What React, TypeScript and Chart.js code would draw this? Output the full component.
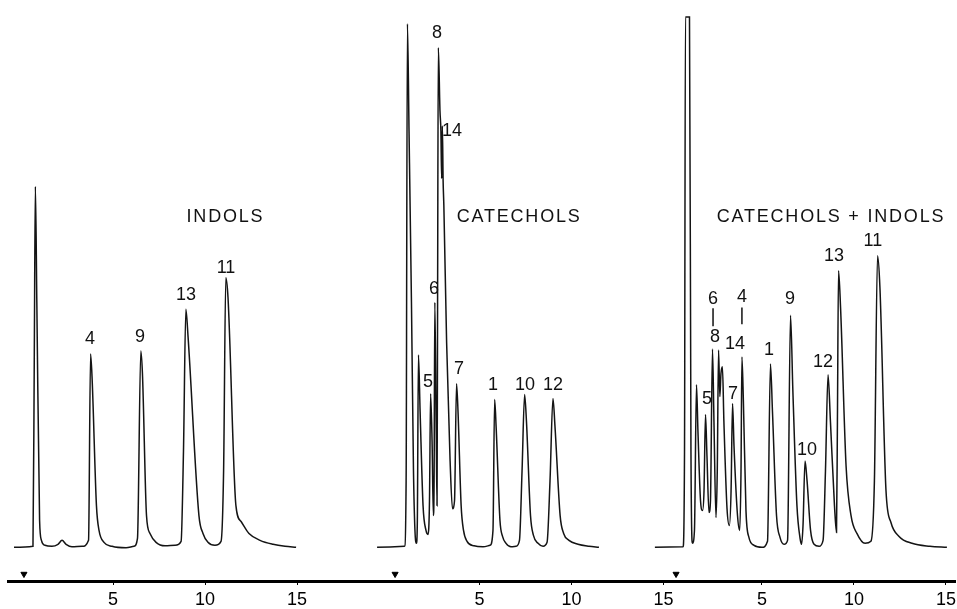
import React, { useEffect, useRef } from "react";
import { Chart, registerables } from "chart.js";

Chart.register(...registerables);

// Shared time axis: three chromatograms on one strip, minutes since each injection
const panelOffsets = [0, 19.92, 35.27];
const tickMinutes = [5, 10, 15];
const injectionTimes = [0.16, 0.41, 0.33];
const injectionLevel = -27;

// Panel 1: INDOLS  (time in min, detector signal in arbitrary units)
const indolsTime = [
  -0.38, 0.65, 0.72, 0.78, 0.86, 1.01, 1.11, 1.3, 1.68, 2.01, 2.23, 2.45, 2.77, 3.32, 3.67, 3.78, 3.86, 4.1,
  4.24, 4.51, 4.95, 5.71, 6.14, 6.33, 6.51, 6.6, 6.82, 7.01, 7.34, 7.83, 8.37, 8.7, 8.83, 8.96, 9.08, 9.67,
  9.89, 10.16, 10.54, 10.87, 11.01, 11.13, 11.25, 11.68, 11.96, 12.39, 12.99, 13.7, 14.35, 14.95,
];
const indolsSignal = [
  0, 1, 187, 364, 247, 27, 7, 2, 1, 3, 7, 3, 0.5, 1, 7, 195, 172, 42,
  17, 5, 1, -0.5, 1, 9, 198, 175, 32, 14, 5, 1.5, 2, 6, 97, 240, 212, 32,
  14, 5, 2, 6, 77, 272, 252, 42, 26, 14, 7, 3, 1, 0,
];

// Panel 2: CATECHOLS
const catecholsTime = [
  -0.57, 0.92, 1.01, 1.08, 1.17, 1.3, 1.41, 1.49, 1.57, 1.62, 1.68, 1.77, 1.93, 2.09, 2.2, 2.28, 2.34, 2.42,
  2.49, 2.53, 2.57, 2.64, 2.69, 2.72, 2.76, 2.85, 2.9, 2.94, 2.98, 3.02, 3.06, 3.21, 3.4, 3.53, 3.64, 3.75, 3.83, 4.0,
  4.13, 4.32, 4.7, 5.19, 5.57, 5.73, 5.82, 5.9, 6.11, 6.25, 6.44, 6.71, 6.98, 7.17, 7.31, 7.45, 7.55, 7.77,
  7.93, 8.18, 8.45, 8.67, 8.83, 8.99, 9.1, 9.38, 9.57, 9.86, 10.35, 10.95, 11.49,
];
const catecholsSignal = [
  0, 1, 67, 528, 417, 247, 77, 17, 4, 27, 194, 137, 42, 17, 13, 47, 155, 107,
  32, 67, 247, 127, 42, 247, 504, 440, 420, 372, 425, 370, 345, 207, 87, 39, 47, 165, 137, 42,
  17, 6, 1.5, 0.5, 2, 17, 149, 122, 27, 11, 4, 0.5, 1, 7, 77, 154, 127, 32,
  12, 4, 1, 5, 67, 150, 122, 32, 14, 7, 3, 1, 0,
];

// Panel 3: CATECHOLS + INDOLS
const mixTime = [
  -0.82, 0.71, 0.79, 0.84, 1.06, 1.14, 1.22, 1.33, 1.44, 1.52, 1.66, 1.77, 1.85, 1.93, 2.01, 2.12, 2.2, 2.31,
  2.39, 2.5, 2.57, 2.64, 2.71, 2.77, 2.85, 2.93, 3.1, 3.23, 3.32, 3.4, 3.48, 3.67, 3.79, 3.86, 3.91, 3.99,
  4.13, 4.29, 4.57, 5.0, 5.3, 5.46, 5.57, 5.79, 5.98, 6.2, 6.39, 6.55, 6.68, 6.9, 7.07, 7.15, 7.23, 7.34,
  7.45, 7.64, 7.83, 8.1, 8.32, 8.45, 8.59, 8.72, 8.94, 9.05, 9.1, 9.16, 9.27, 9.57, 9.84, 10.16, 10.6, 10.92,
  11.11, 11.28, 11.41, 11.74, 12.01, 12.45, 13.15, 14.13, 15.05,
];
const mixSignal = [
  0, 0.5, 97, 535, 535, 97, 4, 17, 164, 117, 47, 37, 57, 134, 92, 35, 47, 200,
  127, 30, 77, 199, 152, 175, 182, 127, 39, 22, 57, 145, 102, 32, 17, 77, 192, 147,
  37, 10, 2, 0, 6, 185, 137, 32, 10, 3, 7, 234, 157, 42, 9, 3, 22, 87,
  67, 17, 3, 1, 7, 77, 174, 127, 42, 15, 127, 279, 242, 82, 32, 14, 4, 6,
  67, 294, 262, 57, 25, 11, 4, 1, 0,
];

// Peak numbers: [text, time, height]
const indolsLabels: [string, number, number][] = [
  ["4", 3.75, 210], ["9", 6.47, 212], ["13", 8.97, 254], ["11", 11.14, 282],
];
const catecholsLabels: [string, number, number][] = [
  ["8", 2.69, 519], ["14", 3.51, 420], ["6", 2.53, 261], ["5", 2.2, 167], ["7", 3.89, 180],
  ["1", 5.73, 164], ["10", 7.47, 164], ["12", 8.99, 164],
];
const mixLabels: [string, number, number][] = [
  ["6", 2.34, 250], ["8", 2.45, 212], ["5", 2.01, 150], ["14", 3.53, 205], ["4", 3.91, 252],
  ["7", 3.42, 155], ["1", 5.38, 199], ["9", 6.52, 250], ["10", 7.45, 98], ["12", 8.32, 187],
  ["13", 8.91, 294], ["11", 11.03, 309],
];
const panelTitles = ["INDOLS", "CATECHOLS", "CATECHOLS + INDOLS"];
const titleTimes = [11.11, 7.15, 8.75];
const titleHeight = 333;

// little leader strokes in panel 3 (6 -> 8, 4 -> peak)
const leaderTimes = [2.34, 3.91];
const leaderTop = [241, 242];
const leaderBottom = [223, 225];

const FONT = "'Liberation Sans', Arial, Helvetica, sans-serif";

function toXY(offset: number, ts: number[], hs: number[]) {
  return ts.map((t, i) => ({ x: offset + t, y: hs[i] }));
}

export default function App() {
  const ref = useRef<HTMLCanvasElement | null>(null);

  useEffect(() => {
    if (!ref.current) return;

    const traceStyle = {
      type: "line" as const,
      borderColor: "#141414",
      borderWidth: 1.5,
      pointRadius: 0,
      fill: false,
      cubicInterpolationMode: "monotone" as const,
    };

    const labelSets = [indolsLabels, catecholsLabels, mixLabels];

    const textPlugin = {
      id: "peakText",
      afterDatasetsDraw(chart: any) {
        const { ctx, scales } = chart;
        const xs = scales.x;
        const ys = scales.y;
        ctx.save();
        ctx.fillStyle = "#111";
        ctx.textAlign = "center";
        ctx.textBaseline = "middle";
        labelSets.forEach((set, p) => {
          ctx.font = `18px ${FONT}`;
          (ctx as any).letterSpacing = "0px";
          set.forEach(([txt, t, h]) => {
            ctx.fillText(txt, xs.getPixelForValue(panelOffsets[p] + t), ys.getPixelForValue(h));
          });
          ctx.font = `18px ${FONT}`;
          (ctx as any).letterSpacing = "1.8px";
          ctx.fillText(
            panelTitles[p],
            xs.getPixelForValue(panelOffsets[p] + titleTimes[p]),
            ys.getPixelForValue(titleHeight)
          );
        });
        ctx.restore();
      },
    };

    const datasets: any[] = [
      { ...traceStyle, label: "INDOLS", data: toXY(panelOffsets[0], indolsTime, indolsSignal) },
      { ...traceStyle, label: "CATECHOLS", data: toXY(panelOffsets[1], catecholsTime, catecholsSignal) },
      { ...traceStyle, label: "CATECHOLS + INDOLS", data: toXY(panelOffsets[2], mixTime, mixSignal) },
      {
        type: "line",
        label: "injection",
        showLine: false,
        data: injectionTimes.map((t, i) => ({ x: panelOffsets[i] + t, y: injectionLevel })),
        pointStyle: "triangle",
        rotation: 180,
        pointRadius: 3.5,
        pointBackgroundColor: "#000",
        pointBorderColor: "#000",
        pointBorderWidth: 1,
      },
      ...leaderTimes.map((t, i) => ({
        type: "line",
        label: "leader" + i,
        data: [
          { x: panelOffsets[2] + t, y: leaderTop[i] },
          { x: panelOffsets[2] + t, y: leaderBottom[i] },
        ],
        borderColor: "#111",
        borderWidth: 1.5,
        pointRadius: 0,
      })),
    ];

    const chart = new Chart(ref.current, {
      type: "line",
      data: { datasets },
      plugins: [textPlugin],
      options: {
        animation: false,
        responsive: false,
        devicePixelRatio: 1,
        events: [],
        layout: { padding: { left: 8, right: 12, top: 0, bottom: 0 } },
        plugins: { legend: { display: false }, tooltip: { enabled: false } },
        scales: {
          x: {
            type: "linear",
            min: -0.707,
            max: 50.76,
            position: "bottom",
            border: { display: true, color: "#000", width: 3 },
            grid: { display: true, drawOnChartArea: false, drawTicks: true, tickLength: 4, color: "#000", lineWidth: 1 },
            afterBuildTicks: (scale: any) => {
              scale.ticks = panelOffsets.flatMap((o) => tickMinutes.map((m) => ({ value: o + m })));
            },
            ticks: {
              autoSkip: false,
              maxRotation: 0,
              padding: 6,
              color: "#000",
              font: { family: FONT, size: 18, lineHeight: 1 },
              callback: (_v: any, i: number) => String(tickMinutes[i % tickMinutes.length]),
            },
          },
          y: { display: false, min: -34, max: 547 },
        },
      },
    });
    return () => chart.destroy();
  }, []);

  return (
    <div style={{ position: "fixed", left: 0, top: 0, width: 967, height: 615, background: "#fff" }}>
      <canvas ref={ref} width={967} height={615} style={{ display: "block" }} />
    </div>
  );
}
